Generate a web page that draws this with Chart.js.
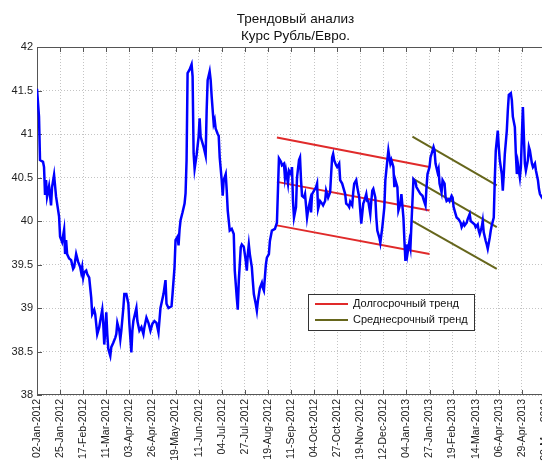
<!DOCTYPE html>
<html>
<head>
<meta charset="utf-8">
<script src="https://cdn.jsdelivr.net/npm/chart.js@4.4.1/dist/chart.umd.min.js"></script>
<style>
    html, body { margin: 0; padding: 0; background: #fff; overflow: hidden; }
    #wrap { width: 580px; height: 462px; }
</style>
</head>
<body>
<div id="wrap"><canvas id="rateChart" width="580" height="462"></canvas></div>
<script>
// Days counted from 02-Jan-2012, ruble/euro rate
const days = [
    0, 2, 3, 6, 7, 8, 9, 10, 12, 14, 15, 17, 19, 22, 23, 25, 27, 28, 29, 30,
    32, 34, 36, 37, 39, 41, 43, 44, 45, 46, 47, 49, 50, 52, 54, 55, 57, 58, 60, 62,
    63, 65, 66, 67, 68, 69, 70, 71, 73, 74, 76, 78, 79, 80, 82, 83, 84, 86, 87, 89,
    91, 92, 94, 95, 96, 99, 100, 102, 104, 106, 107, 109, 111, 113, 115, 117, 119, 121, 123, 126,
    128, 129, 131, 134, 135, 137, 138, 140, 141, 142, 143, 145, 147, 148, 149, 150, 152, 154, 155, 156,
    157, 159, 161, 162, 163, 164, 166, 168, 169, 170, 172, 173, 174, 176, 177, 178, 180, 181, 182, 184,
    185, 186, 188, 189, 190, 192, 194, 196, 197, 199, 200, 201, 203, 204, 206, 208, 209, 210, 211, 212,
    214, 215, 216, 218, 219, 220, 222, 224, 225, 226, 228, 229, 231, 232, 234, 237, 239, 240, 241, 243,
    244, 246, 247, 248, 250, 251, 253, 254, 255, 256, 258, 259, 261, 262, 263, 264, 266, 267, 269, 270,
    272, 273, 274, 276, 278, 279, 280, 282, 284, 285, 287, 288, 290, 292, 293, 294, 295, 296, 298, 299,
    301, 302, 304, 305, 307, 308, 310, 311, 312, 314, 315, 316, 318, 319, 321, 322, 323, 325, 326, 328,
    329, 330, 332, 333, 334, 335, 337, 338, 339, 341, 342, 344, 346, 347, 349, 350, 351, 352, 353, 355,
    356, 357, 359, 360, 362, 363, 365, 366, 367, 368, 369, 371, 372, 373, 375, 377, 378, 380, 382, 384,
    385, 387, 388, 389, 391, 392, 393, 395, 396, 397, 399, 400, 401, 403, 404, 406, 407, 408, 410, 411,
    413, 414, 415, 417, 418, 420, 422, 423, 425, 426, 428, 429, 431, 432, 434, 436, 437, 439, 440, 441,
    443, 444, 445, 447, 448, 449, 451, 452, 453, 455, 456, 457, 459, 460, 461, 463, 464, 465, 466, 468,
    469, 470, 472, 473, 474, 476, 477, 478, 479, 481, 482, 483, 484, 485, 486, 487, 489, 490, 491, 493,
    494, 496, 497, 499, 500, 501, 503, 505, 507
];
const rate = [
    41.52, 41.20, 40.70, 40.68, 40.62, 40.30, 40.47, 40.28, 40.40, 40.18, 40.39, 40.53, 40.28, 40.05, 39.82, 39.76, 39.90, 39.62, 39.78, 39.62,
    39.57, 39.55, 39.45, 39.47, 39.62, 39.53, 39.47, 39.41, 39.47, 39.35, 39.41, 39.43, 39.39, 39.35, 39.12, 38.93, 38.98, 38.93, 38.70, 38.78,
    38.85, 38.98, 38.82, 38.58, 38.74, 38.95, 38.70, 38.53, 38.45, 38.55, 38.60, 38.66, 38.70, 38.83, 38.74, 38.64, 38.74, 39.00, 39.16, 39.16,
    39.05, 38.82, 38.49, 38.74, 38.85, 39.00, 38.85, 38.74, 38.78, 38.70, 38.78, 38.89, 38.83, 38.74, 38.82, 38.85, 38.83, 38.72, 39.00, 39.16,
    39.32, 39.05, 39.00, 39.02, 39.16, 39.47, 39.78, 39.82, 39.72, 39.90, 40.01, 40.10, 40.20, 40.32, 40.70, 41.70, 41.74, 41.80, 41.66, 40.78,
    40.60, 40.76, 40.97, 41.18, 40.97, 40.93, 40.85, 40.75, 41.27, 41.62, 41.72, 41.62, 41.43, 41.12, 41.16, 41.06, 41.00, 40.98, 40.73, 40.47,
    40.29, 40.47, 40.54, 40.35, 40.12, 39.89, 39.91, 39.85, 39.43, 39.12, 38.98, 39.31, 39.70, 39.73, 39.70, 39.54, 39.43, 39.62, 39.73, 39.62,
    39.47, 39.31, 39.16, 39.04, 38.97, 39.08, 39.23, 39.29, 39.23, 39.20, 39.50, 39.58, 39.62, 39.77, 39.89, 39.91, 39.98, 40.35, 40.72, 40.68,
    40.64, 40.66, 40.50, 40.58, 40.43, 40.58, 40.54, 40.62, 40.23, 40.04, 40.16, 40.50, 40.70, 40.73, 40.47, 40.29, 40.27, 40.31, 40.04, 40.12,
    40.23, 40.10, 40.31, 40.35, 40.39, 40.43, 40.14, 40.23, 40.20, 40.18, 40.23, 40.35, 40.27, 40.33, 40.54, 40.73, 40.77, 40.70, 40.64, 40.62,
    40.66, 40.47, 40.43, 40.39, 40.31, 40.20, 40.18, 40.16, 40.22, 40.18, 40.33, 40.43, 40.47, 40.39, 40.27, 40.12, 39.97, 40.20, 40.23, 40.31,
    40.23, 40.23, 40.08, 40.23, 40.35, 40.37, 40.27, 40.04, 39.89, 39.81, 39.75, 39.93, 40.16, 40.47, 40.70, 40.81, 40.73, 40.66, 40.70, 40.62,
    40.39, 40.47, 40.39, 40.12, 40.20, 40.31, 40.04, 39.77, 39.54, 39.73, 39.62, 39.77, 39.70, 39.97, 40.48, 40.45, 40.39, 40.35, 40.31, 40.29,
    40.25, 40.18, 40.39, 40.54, 40.62, 40.73, 40.77, 40.85, 40.81, 40.66, 40.56, 40.60, 40.43, 40.33, 40.47, 40.43, 40.27, 40.23, 40.25, 40.23,
    40.29, 40.27, 40.16, 40.08, 40.04, 40.02, 39.98, 39.93, 39.98, 39.95, 39.98, 40.02, 40.08, 40.00, 39.98, 39.96, 39.93, 39.96, 39.89, 39.85,
    39.93, 40.00, 39.87, 39.77, 39.73, 39.68, 39.81, 39.89, 39.95, 40.04, 40.47, 40.81, 41.04, 40.85, 40.70, 40.54, 40.35, 40.54, 40.77, 41.04,
    41.27, 41.45, 41.47, 41.39, 41.20, 41.08, 40.77, 40.54, 40.66, 40.50, 40.62, 40.97, 41.31, 40.97, 40.66, 40.58, 40.70, 40.85, 40.81, 40.66,
    40.62, 40.66, 40.58, 40.47, 40.37, 40.31, 40.27, 40.24, 40.20
];

// trend channels: start/end day and level of each line
const longTrendDays = [239, 391];
const longTrendUpper = [40.96, 40.62];
const longTrendMiddle = [40.45, 40.12];
const longTrendLower = [39.95, 39.62];
const midTrendDays = [374, 458];
const midTrendUpper = [40.97, 40.41];
const midTrendMiddle = [40.49, 39.93];
const midTrendLower = [40.00, 39.45];

const tickLabels = [
    '02-Jan-2012', '25-Jan-2012', '17-Feb-2012', '11-Mar-2012', '03-Apr-2012', '26-Apr-2012',
    '19-May-2012', '11-Jun-2012', '04-Jul-2012', '27-Jul-2012', '19-Aug-2012', '11-Sep-2012',
    '04-Oct-2012', '27-Oct-2012', '19-Nov-2012', '12-Dec-2012', '04-Jan-2013', '27-Jan-2013',
    '19-Feb-2013', '14-Mar-2013', '06-Apr-2013', '29-Apr-2013', '22-May-2013'
];

const FONT = '"Liberation Sans", Arial, sans-serif';
const RED = '#e02a2a';
const OLIVE = '#66661c';

const months = { Jan: 0, Feb: 1, Mar: 2, Apr: 3, May: 4, Jun: 5, Jul: 6, Aug: 7, Sep: 8, Oct: 9, Nov: 10, Dec: 11 };
const base = Date.UTC(2012, 0, 2);
function dayOf(label) {
    const [d, m, y] = label.split('-');
    return Math.round((Date.UTC(+y, months[m], +d) - base) / 86400000);
}
const tickDays = tickLabels.map(dayOf);

function pts(xs, ys) {
    return xs.map((x, i) => ({ x: x, y: ys[i] }));
}

function trend(label, xs, ys, color) {
    return { label: label, data: pts(xs, ys), borderColor: color, borderWidth: 2, pointRadius: 0 };
}

// axes box with inward ticks, like the original plot
const axesBox = {
    id: 'axesBox',
    beforeDatasetsDraw(chart) {
        const { ctx, chartArea: a, scales: { x, y } } = chart;
        ctx.save();
        ctx.strokeStyle = '#555';
        ctx.lineWidth = 1;
        ctx.strokeRect(Math.round(a.left) + 0.5, Math.round(a.top) + 0.5,
            Math.round(a.right - a.left), Math.round(a.bottom - a.top) - 1);
        ctx.beginPath();
        x.ticks.forEach(t => {
            const px = Math.round(x.getPixelForValue(t.value)) + 0.5;
            ctx.moveTo(px, a.bottom); ctx.lineTo(px, a.bottom - 5);
            ctx.moveTo(px, a.top); ctx.lineTo(px, a.top + 5);
        });
        y.ticks.forEach(t => {
            const py = Math.round(y.getPixelForValue(t.value)) + 0.5;
            ctx.moveTo(a.left, py); ctx.lineTo(a.left + 5, py);
            ctx.moveTo(a.right, py); ctx.lineTo(a.right - 5, py);
        });
        ctx.stroke();
        ctx.restore();
    }
};

// legend box placed inside the plot
const legendBox = {
    id: 'legendBox',
    afterDraw(chart) {
        const { ctx, chartArea: a } = chart;
        const left = Math.round(a.left) + 271, top = Math.round(a.top) + 247;
        const w = 166, h = 36;
        const entries = [chart.data.datasets[1], chart.data.datasets[4]];
        ctx.save();
        ctx.fillStyle = '#fff';
        ctx.fillRect(left, top, w, h);
        ctx.strokeStyle = '#333';
        ctx.lineWidth = 1;
        ctx.strokeRect(left + 0.5, top + 0.5, w, h);
        ctx.font = '11px ' + FONT;
        ctx.textBaseline = 'middle';
        entries.forEach((ds, i) => {
            const yy = top + 10 + i * 16;
            ctx.strokeStyle = ds.borderColor;
            ctx.lineWidth = 2;
            ctx.beginPath();
            ctx.moveTo(left + 7, yy);
            ctx.lineTo(left + 40, yy);
            ctx.stroke();
            ctx.fillStyle = '#111';
            ctx.fillText(ds.label, left + 45, yy);
        });
        ctx.restore();
    }
};

new Chart(document.getElementById('rateChart'), {
    type: 'line',
    data: {
        datasets: [
            { label: 'Курс', data: pts(days, rate), borderColor: '#0000ff', borderWidth: 2.5, pointRadius: 0 },
            trend('Долгосрочный тренд', longTrendDays, longTrendUpper, RED),
            trend('Долгосрочный тренд', longTrendDays, longTrendMiddle, RED),
            trend('Долгосрочный тренд', longTrendDays, longTrendLower, RED),
            trend('Среднесрочный тренд', midTrendDays, midTrendUpper, OLIVE),
            trend('Среднесрочный тренд', midTrendDays, midTrendMiddle, OLIVE),
            trend('Среднесрочный тренд', midTrendDays, midTrendLower, OLIVE)
        ]
    },
    options: {
        responsive: false,
        animation: false,
        devicePixelRatio: 1,
        layout: { padding: { left: 0, right: 26, top: 0, bottom: 0 } },
        plugins: {
            legend: { display: false },
            tooltip: { enabled: false },
            title: {
                display: true,
                fullSize: false,
                text: ['Трендовый анализ', 'Курс Рубль/Евро.'],
                color: '#111',
                font: { family: FONT, size: 13.5, weight: 'normal', lineHeight: 1.26 },
                padding: { top: 10.5, bottom: 2.5 }
            }
        },
        scales: {
            x: {
                type: 'linear',
                min: 0,
                max: 515,
                afterBuildTicks: s => { s.ticks = tickDays.map(v => ({ value: v })); },
                afterFit: s => { s.height = 67; },
                ticks: {
                    autoSkip: false,
                    minRotation: 90,
                    maxRotation: 90,
                    padding: 4,
                    color: '#222',
                    font: { family: FONT, size: 10.5 },
                    callback: (v, i) => tickLabels[i]
                },
                grid: { color: '#c4c4c4', drawTicks: false },
                border: { display: false, dash: [1, 2] }
            },
            y: {
                min: 38,
                max: 42,
                afterFit: s => { s.width = 37; },
                ticks: {
                    stepSize: 0.5,
                    padding: 4,
                    color: '#222',
                    font: { family: FONT, size: 11 },
                    callback: v => String(v)
                },
                grid: { color: '#c4c4c4', drawTicks: false },
                border: { display: false, dash: [1, 2] }
            }
        }
    },
    plugins: [axesBox, legendBox]
});
</script>
</body>
</html>
